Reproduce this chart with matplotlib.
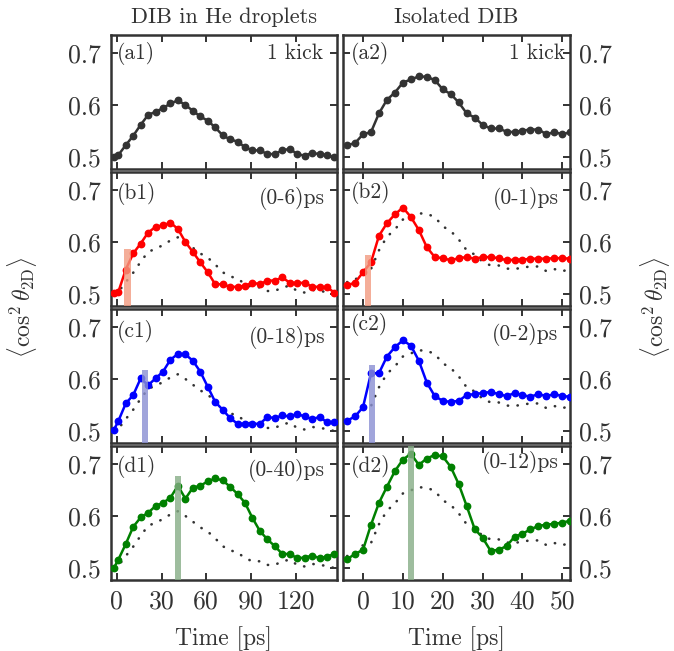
import numpy as np
import matplotlib.pyplot as plt

plt.rcParams['font.family'] = 'serif'
plt.rcParams['font.serif'] = ['cmr10']
plt.rcParams['mathtext.fontset'] = 'cm'
plt.rcParams['axes.unicode_minus'] = False

# time grids (ps)
t_drop = [-2, 1, 6, 11, 16, 21, 26, 31, 36, 41, 46, 51, 56, 61, 66, 71, 76, 81,
          86, 91, 96, 101, 106, 111, 116, 121, 126, 131, 136, 141, 146]
t_iso = [-4, -2, 0, 2, 4, 6, 8, 10, 12, 14, 16, 18, 20, 22, 24, 26, 28, 30,
         32, 34, 36, 38, 40, 42, 44, 46, 48, 50, 52]

# DIB in He droplets
a1 = [0.500, 0.504, 0.523, 0.541, 0.562, 0.581, 0.587, 0.594, 0.603, 0.609, 0.600,
      0.589, 0.578, 0.570, 0.557, 0.542, 0.534, 0.530, 0.519, 0.513, 0.513, 0.506,
      0.506, 0.513, 0.516, 0.506, 0.503, 0.508, 0.506, 0.504, 0.500]
b1 = [0.503, 0.504, 0.547, 0.578, 0.597, 0.618, 0.629, 0.632, 0.637, 0.625, 0.600,
      0.581, 0.561, 0.542, 0.519, 0.519, 0.514, 0.514, 0.516, 0.522, 0.519, 0.526,
      0.526, 0.532, 0.522, 0.521, 0.522, 0.514, 0.514, 0.513, 0.503]
c1 = [0.502, 0.519, 0.553, 0.569, 0.601, 0.588, 0.601, 0.614, 0.637, 0.648, 0.647,
      0.635, 0.614, 0.585, 0.556, 0.541, 0.525, 0.514, 0.514, 0.514, 0.514, 0.527,
      0.525, 0.530, 0.528, 0.533, 0.528, 0.523, 0.527, 0.517, 0.517]
d1 = [0.500, 0.516, 0.546, 0.579, 0.597, 0.606, 0.619, 0.625, 0.635, 0.658, 0.633,
      0.654, 0.658, 0.666, 0.672, 0.668, 0.656, 0.642, 0.625, 0.596, 0.571, 0.555,
      0.542, 0.527, 0.527, 0.519, 0.520, 0.524, 0.519, 0.522, 0.527]

# isolated DIB
a2 = [0.523, 0.527, 0.544, 0.548, 0.584, 0.610, 0.624, 0.643, 0.649, 0.655, 0.654,
      0.648, 0.630, 0.621, 0.605, 0.584, 0.576, 0.562, 0.555, 0.555, 0.549, 0.548,
      0.551, 0.553, 0.553, 0.544, 0.548, 0.544, 0.548]
b2 = [0.517, 0.522, 0.542, 0.561, 0.612, 0.636, 0.653, 0.666, 0.648, 0.623, 0.590,
      0.571, 0.569, 0.565, 0.569, 0.571, 0.568, 0.571, 0.571, 0.569, 0.565, 0.566,
      0.566, 0.568, 0.568, 0.568, 0.569, 0.569, 0.568]
c2 = [0.520, 0.528, 0.546, 0.611, 0.611, 0.643, 0.661, 0.674, 0.664, 0.635, 0.593,
      0.567, 0.558, 0.556, 0.558, 0.569, 0.571, 0.573, 0.575, 0.571, 0.567, 0.573,
      0.569, 0.566, 0.571, 0.567, 0.571, 0.567, 0.566]
d2 = [0.517, 0.527, 0.535, 0.583, 0.625, 0.656, 0.686, 0.708, 0.719, 0.698, 0.710,
      0.717, 0.714, 0.694, 0.661, 0.619, 0.575, 0.558, 0.533, 0.535, 0.542, 0.560,
      0.566, 0.574, 0.581, 0.583, 0.585, 0.587, 0.591]

# kick markers (time, top of bar)
kick_drop = [7, 19, 41]
kick_drop_top = [0.586, 0.617, 0.677]
kick_iso = [1.2, 2.2, 12.0]
kick_iso_top = [0.576, 0.626, 0.74]

labels_drop = ['(a1)', '(b1)', '(c1)', '(d1)']
labels_iso = ['(a2)', '(b2)', '(c2)', '(d2)']
notes_drop = ['1 kick', '(0-6)ps', '(0-18)ps', '(0-40)ps']
notes_iso = ['1 kick', '(0-1)ps', '(0-2)ps', '(0-12)ps']

colors = ['#333333', 'red', 'blue', 'green']
bar_colors = ['#f29a80', '#8a8fd2', '#86ad86']
ink = '#333333'

fig, axes = plt.subplots(4, 2, figsize=(6.74, 6.51), dpi=100)
fig.subplots_adjust(left=0.164, right=0.845, top=0.946, bottom=0.109,
                    hspace=0.022, wspace=0.027)

cols = [
    (t_drop, [a1, b1, c1, d1], kick_drop, kick_drop_top, 4.4,
     labels_drop, notes_drop, (-4.2, 147.7), [0, 30, 60, 90, 120]),
    (t_iso, [a2, b2, c2, d2], kick_iso, kick_iso_top, 1.6,
     labels_iso, notes_iso, (-5, 51.8), [0, 10, 20, 30, 40, 50]),
]

lab_y = [[0.86, 0.84, 0.835, 0.85], [0.86, 0.85, 0.885, 0.85]]
note_y = [[0.865, 0.80, 0.79, 0.815], [0.865, 0.80, 0.81, 0.875]]
note_x = [[0.94, 0.948, 0.948, 0.948], [0.98, 0.951, 0.951, 0.951]]

for j, (t, series, kt, ktop, kw, labs, notes, xlim, xt) in enumerate(cols):
    for i in range(4):
        ax = axes[i, j]
        if i > 0:
            # single-kick reference as sparse dots
            ax.plot(t, series[0], linestyle=(0, (0.1, 3.6)), color=ink, lw=1.9,
                    dash_capstyle='round', zorder=2)
        ax.plot(t, series[i], '-o', color=colors[i], lw=1.8, ms=4.6, zorder=3)
        if i > 0:
            ax.bar(kt[i - 1], ktop[i - 1] - 0.45, bottom=0.45, width=kw,
                   color=bar_colors[i - 1], alpha=0.8, zorder=4)
        ax.set_xlim(*xlim)
        ax.set_ylim(0.477, 0.734)
        ax.set_xticks(xt)
        ax.set_yticks([0.5, 0.6, 0.7])
        ax.set_yticklabels(['0.5', '0.6', '0.7'])
        ax.tick_params(direction='in', top=True, bottom=True, left=True, right=True,
                       length=5, width=1.4, color=ink, labelcolor=ink,
                       labelsize=18.5, pad=7)
        if j == 1:
            ax.tick_params(labelleft=False, labelright=True)
        if i < 3:
            ax.tick_params(labelbottom=False)
        else:
            ax.set_xticklabels([str(v) for v in xt])
            ax.set_xlabel('Time [ps]', fontsize=17, color=ink, labelpad=9)
        for s in ax.spines.values():
            s.set_linewidth(1.8)
            s.set_color(ink)
        ax.text(0.03 if j == 0 else 0.035, lab_y[j][i], labs[i], transform=ax.transAxes,
                ha='left', va='center', fontsize=15.5, color=ink)
        ax.text(note_x[j][i], note_y[j][i], notes[i], transform=ax.transAxes,
                ha='right', va='center', fontsize=15.5, color=ink)

axes[0, 0].set_title('DIB in He droplets', fontsize=16, color=ink, pad=9)
axes[0, 1].set_title('Isolated DIB', fontsize=16, color=ink, pad=9)

ylab = r'$\langle\cos^2\theta_{\rm 2D}\rangle$'
fig.text(0.033, 0.528, ylab, rotation=90, ha='center', va='center', fontsize=17, color=ink)
fig.text(0.972, 0.528, ylab, rotation=90, ha='center', va='center', fontsize=17, color=ink)

fig.savefig('out.png', dpi=100)
